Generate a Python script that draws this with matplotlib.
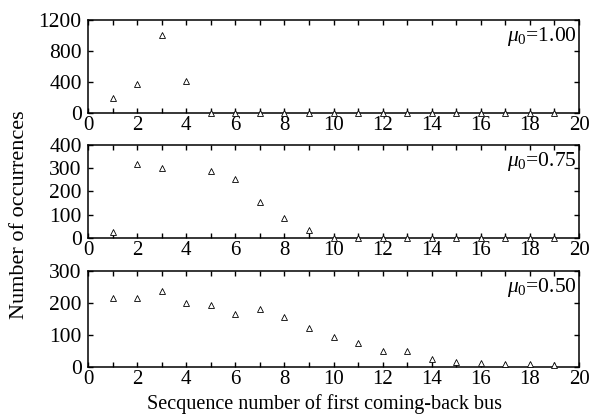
import numpy as np
import matplotlib
matplotlib.use("Agg")
import matplotlib.pyplot as plt

plt.rcParams["font.family"] = ["Liberation Serif", "DejaVu Serif"]
plt.rcParams["mathtext.fontset"] = "custom"
plt.rcParams["mathtext.it"] = "Liberation Serif:italic"
plt.rcParams["mathtext.rm"] = "Liberation Serif"

bus_seq = np.arange(1, 20)

# occurrences for each initial mu value (nan = no point drawn)
occ_100 = [200, 370, 1010, 410, 0, 0, 0, 0, 0, 0, 0, 0, 0, 0, 0, 0, 0, 0, 0]
occ_075 = [27, 318, 300, np.nan, 287, 252, 156, 86, 34, 0, 0, 0, 0, 0, 0, 0, 0, 0, 0]
occ_050 = [215, 216, 236, 199, 195, 165, 180, 155, 121, 94, 76, 50, 50, 24, 15, 14, 9, 8, 5]

mu_labels = ["1.00", "0.75", "0.50"]
y_maxes = [1200, 400, 300]
y_ticks = [[0, 400, 800, 1200], [0, 100, 200, 300, 400], [0, 100, 200, 300]]

fig = plt.figure(figsize=(5.97, 4.19), dpi=100)
boxes = [
    [0.1474, 0.7303, 0.8225, 0.2220],
    [0.1474, 0.4320, 0.8225, 0.2220],
    [0.1474, 0.1241, 0.8225, 0.2291],
]

for box, data, mu, ymax, yt in zip(boxes, [occ_100, occ_075, occ_050], mu_labels, y_maxes, y_ticks):
    ax = fig.add_axes(box)
    ax.plot(bus_seq, data, linestyle="none", marker="^", markersize=4,
            markerfacecolor="white", markeredgecolor="black", markeredgewidth=0.6,
            clip_on=False, zorder=5)
    ax.set_xlim(0, 20)
    ax.set_ylim(0, ymax)
    ax.set_xticks(np.arange(0, 21, 2))
    ax.set_xticks(np.arange(1, 20, 2), minor=True)
    ax.set_yticks(yt)
    for s in ax.spines.values():
        s.set_linewidth(1.1)
    ax.tick_params(which="both", direction="in", top=True, right=True,
                   length=3.5, width=1.0)
    ax.tick_params(axis="x", labelsize=15, pad=2)
    ax.tick_params(axis="y", labelsize=15.5, pad=4.5)
    ax.text(0.995, 0.95, r"$\mu_0$=" + mu, transform=ax.transAxes,
            ha="right", va="top", fontsize=15.5)

fig.text(0.543, 0.035, "Secquence number of first coming-back bus",
         ha="center", va="center", fontsize=14.5)
fig.text(0.032, 0.487, "Number of occurrences", rotation=90,
         ha="center", va="center", fontsize=16)

fig.savefig("out.png", dpi=100)
